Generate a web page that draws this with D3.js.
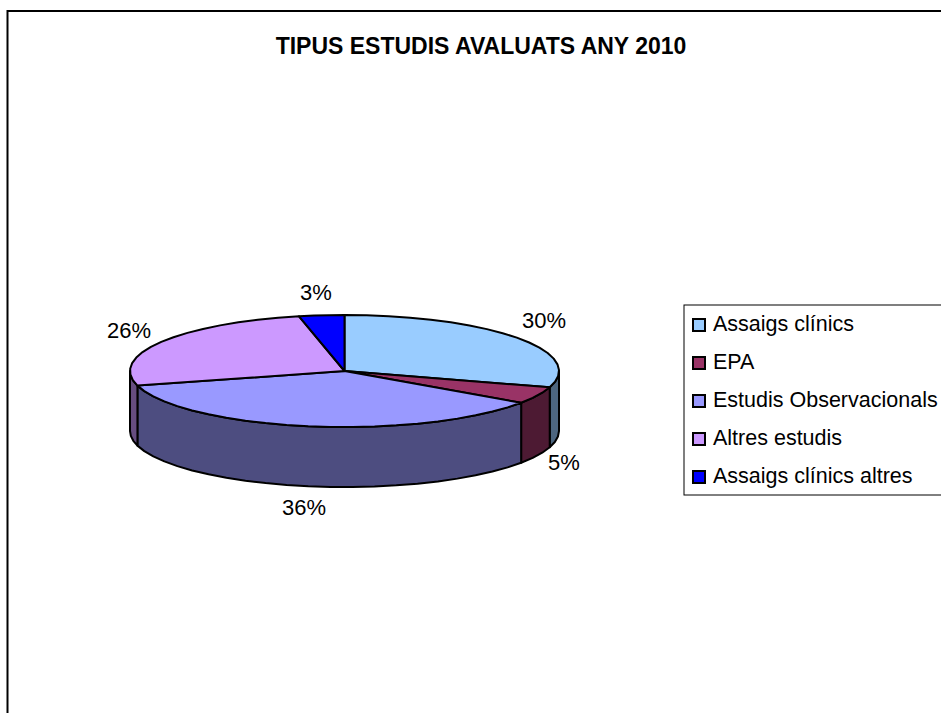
<!DOCTYPE html>
<html>
<head>
<meta charset="utf-8">
<script src="https://cdn.jsdelivr.net/npm/d3@7"></script>
<style>
  html, body { margin: 0; padding: 0; background: #fff; }
  svg { display: block; }
  text { font-family: "Liberation Sans", Arial, sans-serif; fill: #000; }
</style>
</head>
<body>
<div id="chart"></div>
<script>
const title = 'TIPUS ESTUDIS AVALUATS ANY 2010';
const categories = ['Assaigs clínics', 'EPA', 'Estudis Observacionals', 'Altres estudis', 'Assaigs clínics altres'];
// Estimated from the slice edges; the labels show these rounded
const percents = [29.7, 4.9, 36.2, 25.8, 3.4];
const topColors = ['#99ccff', '#993366', '#9999ff', '#cc99ff', '#0000ff'];
const sideColors = ['#4d6680', '#4d1a33', '#4d4d80', '#664d80', '#00007f'];

// Layout
const WIDTH = 941;
const HEIGHT = 713;
const PIE = { left: 130, right: 559, top: 315, bottom: 427, depth: 60 };
const labelAnchors = [[544, 328], [564, 470], [304, 515], [129, 338], [316, 300]];
const LEGEND = { x: 684, y: 305, height: 190, rowTop: 325, rowStep: 38 };

const svg = d3.select('#chart').append('svg')
  .attr('width', WIDTH)
  .attr('height', HEIGHT);

// Chart frame runs off the right and bottom of the picture
svg.append('rect')
  .attr('x', 7.5)
  .attr('y', 11)
  .attr('width', WIDTH + 20)
  .attr('height', HEIGHT + 20)
  .attr('fill', '#fff')
  .attr('stroke', '#000')
  .attr('stroke-width', 2);

svg.append('text')
  .attr('x', 481)
  .attr('y', 53.5)
  .attr('text-anchor', 'middle')
  .attr('font-size', 23)
  .attr('font-weight', 'bold')
  .text(title);

// Unit circle to screen, squashed into the tilted ellipse
const xScale = d3.scaleLinear().domain([-1, 1]).range([PIE.left, PIE.right]);
const yScale = d3.scaleLinear().domain([-1, 1]).range([PIE.top, PIE.bottom]);
const ellipseX = (a) => xScale(Math.sin(a));
const ellipseY = (a) => yScale(-Math.cos(a));

const slices = d3.pie().sort(null).value((d) => d)(percents);

function rimAngles(a0, a1) {
  const steps = Math.max(1, Math.ceil((a1 - a0) / (Math.PI / 30)));
  return d3.range(steps + 1).map((i) => a0 + (a1 - a0) * i / steps);
}

const line = d3.line().x((p) => p[0]).y((p) => p[1]);

// Walls: only the front half of the rim (90deg to 270deg) can be seen
const walls = svg.append('g');
slices.forEach((s, i) => {
  const a0 = Math.max(s.startAngle, Math.PI / 2);
  const a1 = Math.min(s.endAngle, Math.PI * 1.5);
  if (a1 <= a0) return;
  const rim = rimAngles(a0, a1);
  const upper = rim.map((a) => [ellipseX(a), ellipseY(a)]);
  const lower = rim.slice().reverse().map((a) => [ellipseX(a), ellipseY(a) + PIE.depth]);
  walls.append('path')
    .attr('d', line(upper.concat(lower)) + 'Z')
    .attr('fill', sideColors[i])
    .attr('stroke', '#000')
    .attr('stroke-width', 2)
    .attr('stroke-linejoin', 'round');
});

// Top faces
const tops = svg.append('g');
slices.forEach((s, i) => {
  const rim = rimAngles(s.startAngle, s.endAngle).map((a) => [ellipseX(a), ellipseY(a)]);
  const centre = [xScale(0), yScale(0)];
  tops.append('path')
    .attr('d', line([centre].concat(rim)) + 'Z')
    .attr('fill', topColors[i])
    .attr('stroke', '#000')
    .attr('stroke-width', 2)
    .attr('stroke-linejoin', 'round');
});

svg.append('g').selectAll('text')
  .data(percents)
  .join('text')
  .attr('x', (d, i) => labelAnchors[i][0])
  .attr('y', (d, i) => labelAnchors[i][1])
  .attr('text-anchor', 'middle')
  .attr('font-size', 22)
  .text((d) => Math.round(d) + '%');

// Legend box, also cut by the right edge
svg.append('rect')
  .attr('x', LEGEND.x)
  .attr('y', LEGEND.y)
  .attr('width', WIDTH)
  .attr('height', LEGEND.height)
  .attr('fill', '#fff')
  .attr('stroke', '#000')
  .attr('stroke-width', 1);

const rows = svg.append('g').selectAll('g')
  .data(categories)
  .join('g')
  .attr('transform', (d, i) => 'translate(' + (LEGEND.x + 9) + ',' + (LEGEND.rowTop + i * LEGEND.rowStep) + ')');

rows.append('rect')
  .attr('x', 0)
  .attr('y', -6)
  .attr('width', 12)
  .attr('height', 12)
  .attr('fill', (d, i) => topColors[i])
  .attr('stroke', '#000')
  .attr('stroke-width', 2);

rows.append('text')
  .attr('x', 20)
  .attr('y', 6)
  .attr('font-size', 21.5)
  .text((d) => d);
</script>
</body>
</html>
